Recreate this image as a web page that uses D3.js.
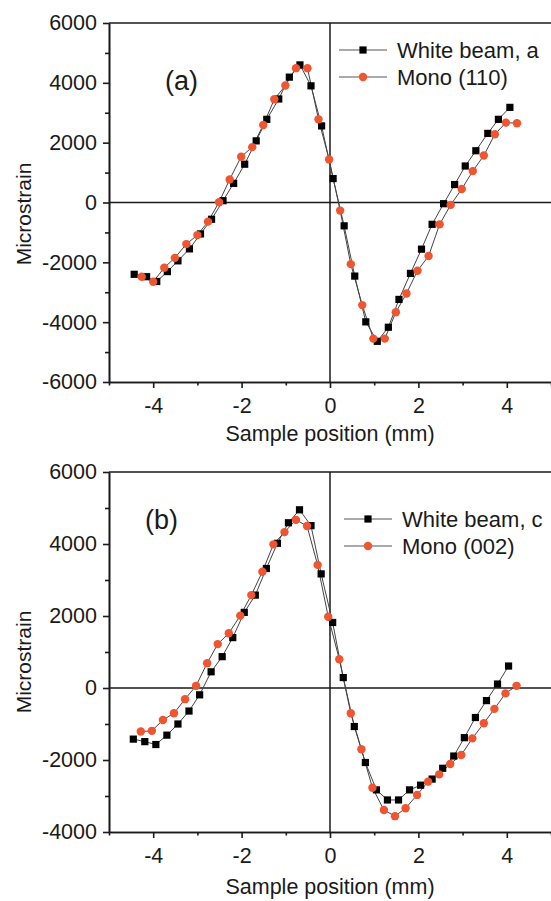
<!DOCTYPE html>
<html lang="en">
<head>
<meta charset="UTF-8">
<title>Microstrain vs sample position</title>
<script src="https://d3js.org/d3.v7.min.js"></script>
<style>
  body { margin: 0; background: #fff; }
  text { font-family: "Liberation Sans", Arial, sans-serif; fill: #1a1a1a; }
</style>
</head>
<body>
<script>
// ---- data ----
var whiteA = [[-4.43,-2400],[-4.15,-2480],[-3.92,-2640],[-3.68,-2310],[-3.44,-1950],[-3.18,-1550],
  [-2.93,-1050],[-2.68,-560],[-2.42,60],[-2.18,640],[-1.93,1280],[-1.67,2060],[-1.43,2780],
  [-1.16,3460],[-0.92,4190],[-0.68,4600],[-0.43,3900],[-0.19,2560],[0.07,800],[0.32,-780],
  [0.56,-2460],[0.81,-3990],[1.07,-4640],[1.32,-4170],[1.56,-3240],[1.82,-2370],[2.07,-1560],
  [2.31,-730],[2.57,-40],[2.82,600],[3.06,1220],[3.30,1730],[3.57,2310],[3.81,2780],[4.07,3180]];
var mono110 = [[-4.26,-2480],[-4.00,-2650],[-3.75,-2180],[-3.51,-1850],[-3.25,-1390],[-3.00,-1090],
  [-2.76,-640],[-2.51,10],[-2.27,770],[-2.01,1530],[-1.76,1850],[-1.51,2590],[-1.26,3450],
  [-1.01,3910],[-0.77,4490],[-0.51,4490],[-0.26,2780],[-0.02,1440],[0.23,-270],[0.47,-2060],
  [0.73,-3430],[0.98,-4550],[1.24,-4550],[1.49,-3670],[1.73,-3040],[1.98,-2280],[2.23,-1790],
  [2.48,-730],[2.73,-80],[2.98,450],[3.23,1050],[3.48,1570],[3.73,2280],[3.98,2670],[4.23,2650]];
var whiteC = [[-4.45,-1420],[-4.19,-1490],[-3.94,-1570],[-3.69,-1310],[-3.44,-1000],[-3.19,-640],
  [-2.95,-190],[-2.69,450],[-2.44,870],[-2.20,1400],[-1.94,2100],[-1.69,2580],[-1.44,3320],
  [-1.19,4020],[-0.94,4590],[-0.69,4950],[-0.43,4510],[-0.20,3170],[0.06,1820],[0.30,290],
  [0.55,-1070],[0.80,-2070],[1.05,-2830],[1.30,-3110],[1.55,-3110],[1.80,-2830],[2.05,-2700],
  [2.31,-2530],[2.55,-2230],[2.80,-1890],[3.04,-1380],[3.29,-820],[3.54,-350],[3.79,110],[4.04,610]];
var mono002 = [[-4.28,-1210],[-4.03,-1190],[-3.78,-890],[-3.53,-700],[-3.28,-310],[-3.03,60],
  [-2.78,690],[-2.54,1220],[-2.29,1520],[-2.03,2010],[-1.78,2580],[-1.53,3230],[-1.28,3990],
  [-1.03,4330],[-0.77,4670],[-0.52,4500],[-0.28,3420],[-0.04,1980],[0.21,800],[0.47,-700],
  [0.71,-1700],[0.96,-2770],[1.22,-3390],[1.47,-3560],[1.71,-3340],[1.97,-2970],[2.22,-2600],
  [2.47,-2400],[2.72,-2110],[2.97,-1860],[3.22,-1400],[3.48,-980],[3.72,-580],[3.97,-150],[4.22,60]];

var xTicks = [-4, -2, 0, 2, 4];
var xMinor = [-5, -3, -1, 1, 3, 5];
var yTicksA = [-6000, -4000, -2000, 0, 2000, 4000, 6000];
var yMinorA = [-5000, -3000, -1000, 1000, 3000, 5000];
var yTicksB = [-4000, -2000, 0, 2000, 4000, 6000];
var yMinorB = [-3000, -1000, 1000, 3000, 5000];
var legendA = ["White beam, a", "Mono (110)"];
var legendB = ["White beam, c", "Mono (002)"];

var RED = "#ef5530";
var INK = "#1a1a1a";
var plain = d => String(d);   // hyphen minus, no thousands separator

var svg = d3.select("body").append("svg")
    .attr("width", 551)
    .attr("height", 901);

var x = d3.scaleLinear().domain([-5, 5]).range([109, 551]);

function drawPanel(cfg) {
  var y = d3.scaleLinear().domain(cfg.yDomain).range([cfg.bottom, cfg.top]);
  var g = svg.append("g");

  // minor ticks
  g.append("g")
      .attr("transform", "translate(0," + cfg.bottom + ")")
      .call(d3.axisBottom(x).tickValues(xMinor).tickSize(3.5).tickFormat("").tickSizeOuter(0));
  g.append("g")
      .attr("transform", "translate(109,0)")
      .call(d3.axisLeft(y).tickValues(cfg.yMinor).tickSize(4).tickFormat("").tickSizeOuter(0));

  // major ticks + labels
  g.append("g")
      .attr("transform", "translate(0," + cfg.bottom + ")")
      .call(d3.axisBottom(x).tickValues(xTicks).tickFormat(plain)
        .tickSize(6).tickPadding(10).tickSizeOuter(0));
  g.append("g")
      .attr("transform", "translate(109,0)")
      .call(d3.axisLeft(y).tickValues(cfg.yTicks).tickFormat(plain)
        .tickSize(6).tickPadding(6).tickSizeOuter(0));

  g.selectAll(".domain, .tick line").attr("stroke", INK).attr("stroke-width", 1.6);
  g.selectAll(".tick text").attr("font-size", 21.5).attr("fill", INK)
      .attr("font-family", "'Liberation Sans', Arial, sans-serif");

  // top frame line
  g.append("line")
      .attr("x1", 109).attr("x2", 551).attr("y1", cfg.top).attr("y2", cfg.top)
      .attr("stroke", INK).attr("stroke-width", 1.6);

  // zero lines
  g.append("line")
      .attr("x1", 109).attr("x2", 551).attr("y1", y(0)).attr("y2", y(0))
      .attr("stroke", INK).attr("stroke-width", 1.5);
  g.append("line")
      .attr("x1", x(0)).attr("x2", x(0)).attr("y1", cfg.top).attr("y2", cfg.bottom)
      .attr("stroke", INK).attr("stroke-width", 1.5);

  var line = d3.line().x(d => x(d[0])).y(d => y(d[1]));

  g.append("path").datum(cfg.white)
      .attr("d", line).attr("fill", "none").attr("stroke", "#444").attr("stroke-width", 1);
  g.append("path").datum(cfg.mono)
      .attr("d", line).attr("fill", "none").attr("stroke", "#444").attr("stroke-width", 1);

  // white beam (squares), mono (circles)
  g.selectAll(".sq").data(cfg.white).enter().append("rect")
      .attr("x", d => x(d[0]) - 3.6).attr("y", d => y(d[1]) - 3.6)
      .attr("width", 7.2).attr("height", 7.2).attr("fill", "#000");
  g.selectAll(".ci").data(cfg.mono).enter().append("circle")
      .attr("cx", d => x(d[0])).attr("cy", d => y(d[1]))
      .attr("r", 4.2).attr("fill", RED);

  // panel label
  svg.append("text")
      .attr("x", cfg.labelX).attr("y", cfg.labelY)
      .attr("font-family", "'Liberation Serif', 'DejaVu Serif', serif")
      .attr("font-size", 27).attr("fill", INK)
      .text(cfg.label);

  // legend
  cfg.legend.forEach(function (name, i) {
    var ly = cfg.legY + i * 27;
    var lg = svg.append("g");
    lg.append("line")
        .attr("x1", cfg.legX - 24).attr("x2", cfg.legX + 24).attr("y1", ly).attr("y2", ly)
        .attr("stroke", "#555").attr("stroke-width", 1);
    if (i === 0) {
      lg.append("rect").attr("x", cfg.legX - 3.6).attr("y", ly - 3.6)
          .attr("width", 7.2).attr("height", 7.2).attr("fill", "#000");
    } else {
      lg.append("circle").attr("cx", cfg.legX).attr("cy", ly).attr("r", 4.2).attr("fill", RED);
    }
    lg.append("text")
        .attr("x", cfg.legX + 34).attr("y", ly + 7.5)
        .attr("font-size", 22).attr("fill", INK)
        .text(name);
  });

  // axis titles
  svg.append("text")
      .attr("x", x(0)).attr("y", cfg.xTitleY)
      .attr("text-anchor", "middle").attr("font-size", 21.5)
      .text("Sample position (mm)");
  svg.append("text")
      .attr("transform", "translate(31," + cfg.yTitleY + ") rotate(-90)")
      .attr("text-anchor", "middle").attr("font-size", 21)
      .text("Microstrain");
}

drawPanel({
  top: 23, bottom: 382,
  yDomain: [-6000, 6000], yTicks: yTicksA, yMinor: yMinorA,
  white: whiteA, mono: mono110,
  label: "(a)", labelX: 165, labelY: 90,
  legend: legendA, legX: 363, legY: 50,
  xTitleY: 441, yTitleY: 214
});

drawPanel({
  top: 472, bottom: 832,
  yDomain: [-4000, 6000], yTicks: yTicksB, yMinor: yMinorB,
  white: whiteC, mono: mono002,
  label: "(b)", labelX: 145, labelY: 529,
  legend: legendB, legX: 368, legY: 519,
  xTitleY: 894, yTitleY: 662
});
</script>
</body>
</html>
